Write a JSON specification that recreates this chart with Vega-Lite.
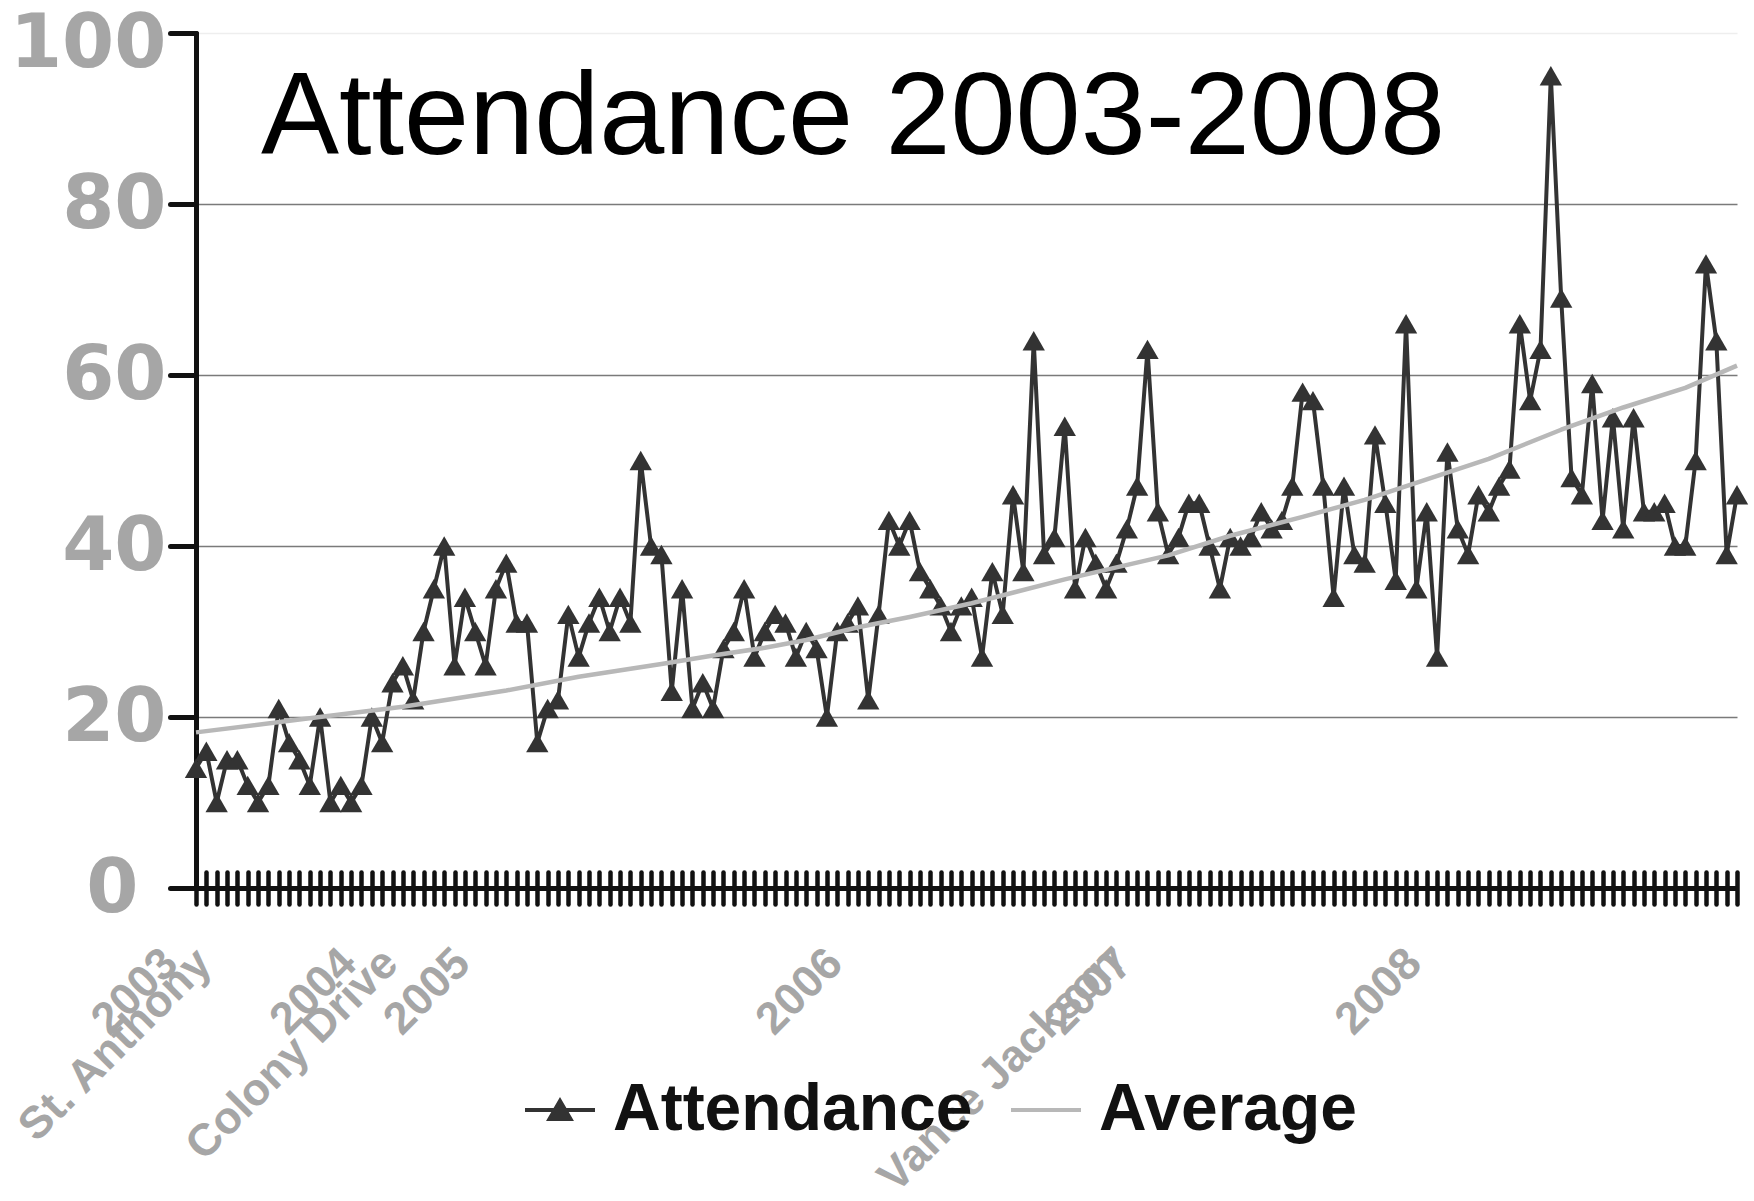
{
  "$schema": "https://vega.github.io/schema/vega-lite/v6.json",
  "width": 1541,
  "height": 855,
  "autosize": {"type": "none"},
  "padding": {"left": 196, "top": 33, "right": 17, "bottom": 313},
  "background": "white",
  "config": {"view": {"stroke": null}, "font": "Liberation Sans"},
  "title": {
    "text": "Attendance 2003-2008",
    "anchor": "start",
    "frame": "group",
    "orient": "top",
    "offset": -265,
    "dx": 65,
    "baseline": "alphabetic",
    "font": "Liberation Sans",
    "fontSize": 117,
    "fontWeight": "normal",
    "color": "#000000"
  },
  "datasets": {
    "att": [
      {"i":1,"v":14},{"i":2,"v":16},{"i":3,"v":10},{"i":4,"v":15},{"i":5,"v":15},{"i":6,"v":12},{"i":7,"v":10},{"i":8,"v":12},{"i":9,"v":21},{"i":10,"v":17},
      {"i":11,"v":15},{"i":12,"v":12},{"i":13,"v":20},{"i":14,"v":10},{"i":15,"v":12},{"i":16,"v":10},{"i":17,"v":12},{"i":18,"v":20},{"i":19,"v":17},{"i":20,"v":24},
      {"i":21,"v":26},{"i":22,"v":22},{"i":23,"v":30},{"i":24,"v":35},{"i":25,"v":40},{"i":26,"v":26},{"i":27,"v":34},{"i":28,"v":30},{"i":29,"v":26},{"i":30,"v":35},
      {"i":31,"v":38},{"i":32,"v":31},{"i":33,"v":31},{"i":34,"v":17},{"i":35,"v":21},{"i":36,"v":22},{"i":37,"v":32},{"i":38,"v":27},{"i":39,"v":31},{"i":40,"v":34},
      {"i":41,"v":30},{"i":42,"v":34},{"i":43,"v":31},{"i":44,"v":50},{"i":45,"v":40},{"i":46,"v":39},{"i":47,"v":23},{"i":48,"v":35},{"i":49,"v":21},{"i":50,"v":24},
      {"i":51,"v":21},{"i":52,"v":28},{"i":53,"v":30},{"i":54,"v":35},{"i":55,"v":27},{"i":56,"v":30},{"i":57,"v":32},{"i":58,"v":31},{"i":59,"v":27},{"i":60,"v":30},
      {"i":61,"v":28},{"i":62,"v":20},{"i":63,"v":30},{"i":64,"v":31},{"i":65,"v":33},{"i":66,"v":22},{"i":67,"v":32},{"i":68,"v":43},{"i":69,"v":40},{"i":70,"v":43},
      {"i":71,"v":37},{"i":72,"v":35},{"i":73,"v":33},{"i":74,"v":30},{"i":75,"v":33},{"i":76,"v":34},{"i":77,"v":27},{"i":78,"v":37},{"i":79,"v":32},{"i":80,"v":46},
      {"i":81,"v":37},{"i":82,"v":64},{"i":83,"v":39},{"i":84,"v":41},{"i":85,"v":54},{"i":86,"v":35},{"i":87,"v":41},{"i":88,"v":38},{"i":89,"v":35},{"i":90,"v":38},
      {"i":91,"v":42},{"i":92,"v":47},{"i":93,"v":63},{"i":94,"v":44},{"i":95,"v":39},{"i":96,"v":41},{"i":97,"v":45},{"i":98,"v":45},{"i":99,"v":40},{"i":100,"v":35},
      {"i":101,"v":41},{"i":102,"v":40},{"i":103,"v":41},{"i":104,"v":44},{"i":105,"v":42},{"i":106,"v":43},{"i":107,"v":47},{"i":108,"v":58},{"i":109,"v":57},{"i":110,"v":47},
      {"i":111,"v":34},{"i":112,"v":47},{"i":113,"v":39},{"i":114,"v":38},{"i":115,"v":53},{"i":116,"v":45},{"i":117,"v":36},{"i":118,"v":66},{"i":119,"v":35},{"i":120,"v":44},
      {"i":121,"v":27},{"i":122,"v":51},{"i":123,"v":42},{"i":124,"v":39},{"i":125,"v":46},{"i":126,"v":44},{"i":127,"v":47},{"i":128,"v":49},{"i":129,"v":66},{"i":130,"v":57},
      {"i":131,"v":63},{"i":132,"v":95},{"i":133,"v":69},{"i":134,"v":48},{"i":135,"v":46},{"i":136,"v":59},{"i":137,"v":43},{"i":138,"v":55},{"i":139,"v":42},{"i":140,"v":55},
      {"i":141,"v":44},{"i":142,"v":44},{"i":143,"v":45},{"i":144,"v":40},{"i":145,"v":40},{"i":146,"v":50},{"i":147,"v":73},{"i":148,"v":64},{"i":149,"v":39},{"i":150,"v":46}
    ],
    "avg": [
      {"i":1,"v":18.2},{"i":11,"v":19.7},{"i":21,"v":21.2},{"i":31,"v":23.1},{"i":38,"v":24.7},{"i":46,"v":26.2},{"i":51,"v":27.2},{"i":56,"v":28.1},
      {"i":60,"v":29.0},{"i":65,"v":30.5},{"i":70,"v":31.7},{"i":76,"v":33.3},{"i":85,"v":36.1},{"i":95,"v":38.9},{"i":101,"v":41.2},{"i":108,"v":43.4},
      {"i":114,"v":45.4},{"i":120,"v":47.8},{"i":126,"v":50.2},{"i":133,"v":53.6},{"i":139,"v":56.2},{"i":145,"v":58.5},{"i":150,"v":61.1}
    ]
  },
  "encoding": {
    "x": {
      "field": "i",
      "type": "ordinal",
      "scale": {"type": "point", "padding": 0},
      "axis": {
        "title": null,
        "grid": false,
        "domain": false,
        "offset": -16,
        "labelExpr": "datum.value == 1 ? 'St. Anthony' : datum.value == 2 ? '2003' : datum.value == 15 ? '2004' : datum.value == 19 ? 'Colony Drive' : datum.value == 26 ? '2005' : datum.value == 62 ? '2006' : datum.value == 90 ? '2007' : datum.value == 89 ? 'Vance Jackson' : datum.value == 118 ? '2008' : ''",
        "labelAngle": -45,
        "labelAlign": "right",
        "labelBaseline": "top",
        "labelFont": "Liberation Sans",
        "labelFontSize": 45,
        "labelFontWeight": "bold",
        "labelColor": "#a6a6a6",
        "labelPadding": 36,
        "labelOverlap": false,
        "labelBound": false,
        "labelFlush": false,
        "labelLimit": 0,
        "labelOffset": {"condition": {"test": "datum.value == 2", "value": -52}, "value": -8},
        "tickColor": "#111111",
        "tickWidth": 4.5,
        "tickSize": 32,
        "tickCap": "round"
      }
    },
    "y": {
      "field": "v",
      "type": "quantitative",
      "scale": {"domain": [0, 100], "nice": false},
      "axis": {
        "title": null,
        "values": [0, 20, 40, 60, 80, 100],
        "grid": true,
        "gridColor": {"condition": [{"test": "datum.value == 100", "value": "#eeeeee"}, {"test": "datum.value == 0", "value": "#111111"}], "value": "#7a7a7a"},
        "gridWidth": {"condition": {"test": "datum.value == 0", "value": 5}, "value": 1.5},
        "domainColor": "#111111",
        "domainWidth": 5,
        "domainCap": "round",
        "tickColor": "#111111",
        "tickWidth": 5,
        "tickSize": 26,
        "tickCap": "round",
        "labelFont": "DejaVu Sans",
        "labelFontSize": 75,
        "labelFontWeight": "bold",
        "labelColor": "#a6a6a6",
        "labelPadding": {"condition": {"test": "datum.value == 0", "value": 32}, "value": 4},
        "labelOffset": {"condition": {"test": "datum.value == 100", "value": 10}, "value": 0}
      }
    }
  },
  "layer": [
    {
      "data": {"name": "att"},
      "mark": {"type": "line", "strokeWidth": 4, "strokeJoin": "round"},
      "encoding": {
        "color": {
          "datum": "Attendance",
          "scale": {"domain": ["Attendance", "Average"], "range": ["#333333", "#b8b8b8"]},
          "legend": {
            "orient": "none",
            "legendX": 327,
            "legendY": 1040,
            "direction": "horizontal",
            "title": null,
            "padding": 0,
            "labelFont": "Liberation Sans",
            "labelFontSize": 66,
            "labelFontWeight": "bold",
            "labelColor": "#111111",
            "labelLimit": 0,
            "labelOffset": 16,
            "columnPadding": 30,
            "symbolSize": 4900,
            "symbolStrokeWidth": 4,
            "encode": {
              "symbols": {
                "update": {
                  "shape": {"signal": "datum.value === 'Attendance' ? 'M-1,0L1,0M-0.3,0.26L0,-0.26L0.3,0.26Z' : 'M-1,0L1,0'"},
                  "fill": {"signal": "datum.value === 'Attendance' ? '#333333' : 'transparent'"},
                  "stroke": {"signal": "datum.value === 'Attendance' ? '#333333' : '#b8b8b8'"},
                  "strokeWidth": {"value": 4},
                  "opacity": {"value": 1}
                }
              }
            }
          }
        }
      }
    },
    {
      "data": {"name": "att"},
      "mark": {"type": "point", "shape": "triangle-up", "filled": true, "size": 500, "opacity": 1},
      "encoding": {"color": {"datum": "Attendance"}}
    },
    {
      "data": {"name": "avg"},
      "mark": {"type": "line", "strokeWidth": 4.5, "strokeJoin": "round"},
      "encoding": {"color": {"datum": "Average"}}
    }
  ]
}
